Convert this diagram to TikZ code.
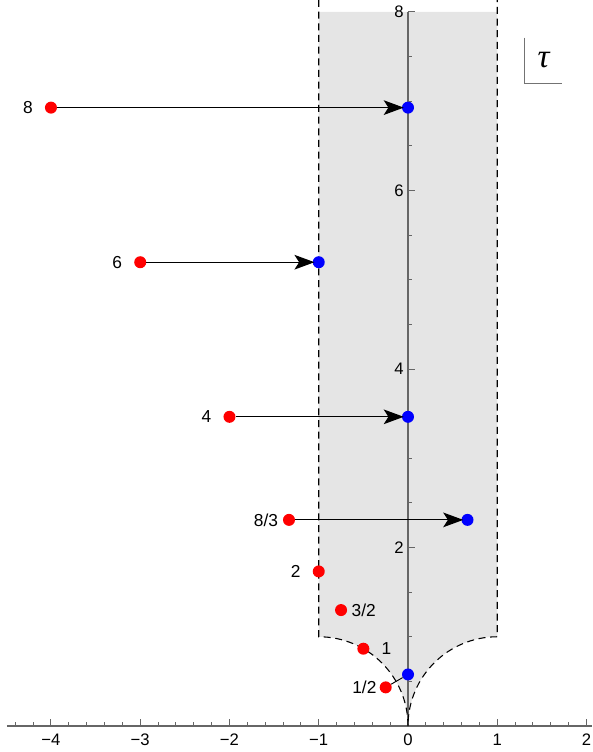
\documentclass[tikz,border=0pt]{standalone}
\usepackage{fontspec}
\setmainfont{Liberation Sans}
\newfontfamily\taufont{Liberation Serif}
\usepackage{tikz}
\usetikzlibrary{arrows.meta,positioning}
\tikzset{%
  arrow/.style={line width=0.9pt,shorten >=-1.5pt,-{Stealth[length=15pt,width=11pt,inset=3.5pt]}},
  reddot/.style={circle,fill=red,inner sep=0pt,minimum size=9pt},
  bluedot/.style={circle,fill=blue,inner sep=0pt,minimum size=9pt},
  ptlabel/.style={font=\fontsize{13}{15}\selectfont,inner sep=0pt},
  ticklabel/.style={font=\fontsize{12.5}{14}\selectfont,inner sep=0pt},
  axis/.style={draw=black!60,line width=1pt},
  boundary/.style={line width=0.8pt,dash pattern=on 5.25pt off 3.5pt},
  fundregion/.style={fill=black!10},
}

\begin{document}
\begin{tikzpicture}[x=66.94pt,y=66.94pt]
      \useasboundingbox (-4.571,-0.291) rectangle (2.062,8.134);

      % region
      \fill[fundregion] (-1,8) -- (-1,1) arc[start angle=90,end angle=0,radius=1]
        arc[start angle=180,end angle=90,radius=1] -- (1,8) -- cycle;

      % axes
      \draw[axis] (-4.493,0) -- (2.062,0);
      \draw[axis] (0,0) -- (0,8);
      \foreach \i in {-22,...,10}
        \draw[axis,line width=0.7pt] (\i/5,0) -- ++(0,3pt);
      \foreach \x/\t in {-4/−4,-3/−3,-2/−2,-1/−1,0/0,1/1,2/2} {
        \draw[axis,line width=0.7pt] (\x,0) -- ++(0,5.25pt);
        \node[ticklabel,yshift=-10.5pt] (x\x) at (\x,0) {\t};
      }
      \foreach \y in {0.5,1,...,7.5}
        \draw[axis,line width=0.7pt] (0,\y) -- ++(3pt,0);
      \foreach \y in {2,4,6,8} {
        \draw[axis,line width=0.7pt] (0,\y) -- ++(5.25pt,0);
        \node[ticklabel,xshift=-6.75pt] (y\y) at (0,\y) {\y};
      }

      \draw[boundary] (-1,8.134) -- (-1,1) arc[start angle=90,end angle=0,radius=1]
        arc[start angle=180,end angle=90,radius=1] -- (1,8.134);

      % points
      \node[reddot] (r8) at (-4,6.9282) {};
      \node[reddot] (r6) at (-3,5.19615) {};
      \node[reddot] (r4) at (-2,3.4641) {};
      \node[reddot] (r83) at (-1.33333,2.3094) {};
      \node[reddot] (r2) at (-1,1.73205) {};
      \node[reddot] (r32) at (-0.75,1.29904) {};
      \node[reddot] (r1) at (-0.5,0.866025) {};
      \node[reddot] (r12) at (-0.25,0.433013) {};

      \node[bluedot] (b8) at (0,6.9282) {};
      \node[bluedot] (b6) at (-1,5.19615) {};
      \node[bluedot] (b4) at (0,3.4641) {};
      \node[bluedot] (b83) at (0.66667,2.3094) {};
      \node[bluedot] (b12) at (0,0.57735) {};

      \node[ptlabel,xshift=-17.25pt] (n8) at (r8) {8};
      \node[ptlabel,xshift=-17.25pt] (n6) at (r6) {6};
      \node[ptlabel,xshift=-17.25pt] (n4) at (r4) {4};
      \node[ptlabel,xshift=-17.25pt] (n83) at (r83) {8/3};
      \node[ptlabel,xshift=-17.25pt] (n2) at (r2) {2};
      \node[ptlabel,xshift=17pt] (n32) at (r32) {3/2};
      \node[ptlabel,xshift=17.25pt] (n1) at (r1) {1};
      \node[ptlabel,xshift=-16pt] (n12) at (r12) {1/2};

      \draw[arrow] (r8) -- (b8);
      \draw[arrow] (r6) -- (b6);
      \draw[arrow] (r4) -- (b4);
      \draw[arrow] (r83) -- (b83);
      \draw[line width=0.7pt] (r12) -- (b12);

      % label
      \node[minimum width=27.75pt,minimum height=33.75pt,inner sep=0pt,
        font=\taufont\itshape\fontsize{25}{27}\selectfont] (tau) at (1.5196,7.457) {τ};
      \draw[black!55,line width=0.8pt] (tau.north west) -- (tau.south west) -- (tau.south east);
    \end{tikzpicture}
\end{document}
